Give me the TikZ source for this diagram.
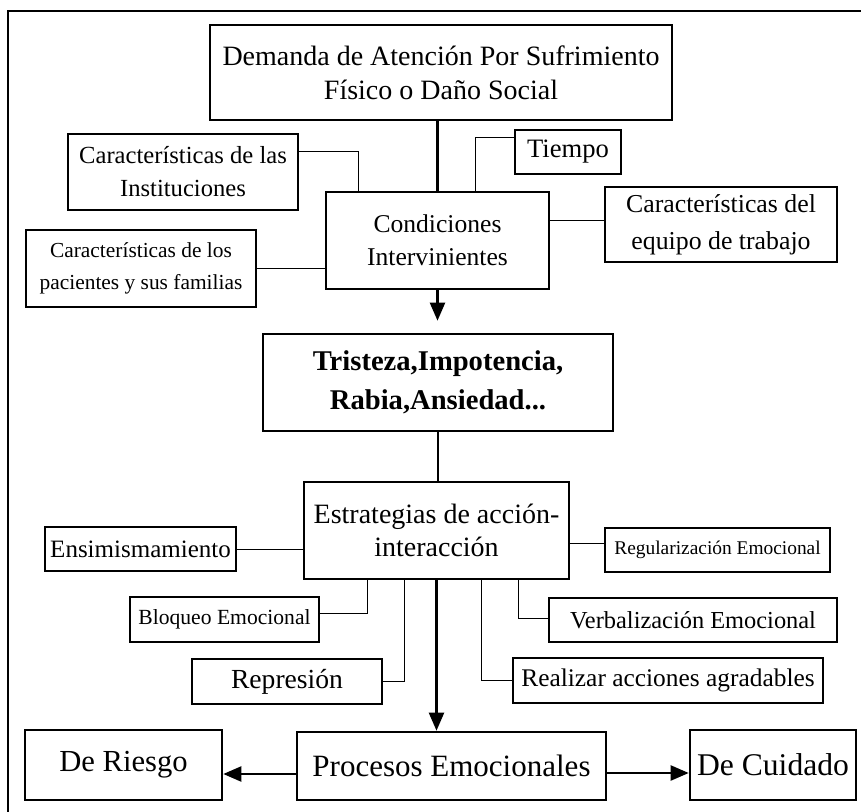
\documentclass[tikz,border=0pt]{standalone}
\usepackage{fontspec}
\setmainfont{Liberation Serif}
\usetikzlibrary{positioning,arrows.meta}

\begin{document}
\begin{tikzpicture}[x=0.5pt,y=-0.5pt,
    caja/.style={draw, line width=1.3pt, align=center, inner sep=0pt},
    enlace/.style={line width=0.5pt},
    flujo/.style={line width=1.1pt},
    flecha/.style={flujo, -{Triangle[length=9pt,width=7.5pt]}}]
    \useasboundingbox (0,0) rectangle (861,812);

    % Marco exterior
    \draw[line width=1pt] (8,830) -- (8,11) -- (880,11);

    % Demanda y condiciones intervinientes
    \node[caja, minimum width=231pt, minimum height=47.5pt, font=\fontsize{14}{17}\selectfont] (demanda) at (441,72.5) {Demanda de Atención Por Sufrimiento\\Físico o Daño Social};
    \node[caja, minimum width=111.5pt, minimum height=48.5pt, font=\fontsize{12.8}{16.5}\selectfont] (condic) at (437.5,240.5) {Condiciones\\Intervinientes};
    \node[caja, minimum width=115pt, minimum height=38pt, font=\fontsize{12.3}{16.5}\selectfont] (instit) at (183,172) {Características de las\\Instituciones};
    \node[caja, minimum width=115pt, minimum height=38.5pt, font=\fontsize{10.7}{16}\selectfont] (pacient) at (141,268.5) {Características de los\\pacientes y sus familias};
    \node[caja, minimum width=53pt, minimum height=22pt, font=\fontsize{13.3}{16}\selectfont] (tiempo) at (568,152) {Tiempo};
    \node[caja, minimum width=116pt, minimum height=37.5pt, font=\fontsize{12.9}{18.5}\selectfont] (equipo) at (721,224.5) {Características del\\equipo de trabajo};

    % Emociones
    \node[caja, minimum width=175pt, minimum height=48.5pt, font=\fontsize{14.3}{19.5}\selectfont\bfseries] (trist) at (438,382.5) {Tristeza,Impotencia,\\Rabia,Ansiedad...};

    % Estrategias de accion-interaccion
    \node[caja, minimum width=132.5pt, minimum height=48.5pt, font=\fontsize{14}{16.5}\selectfont] (estrat) at (436.5,530.5) {Estrategias de acción-\\interacción};
    \node[caja, minimum width=95.5pt, minimum height=22pt, font=\fontsize{12.5}{15}\selectfont] (ensim) at (140.5,549) {Ensimismamiento};
    \node[caja, minimum width=112.5pt, minimum height=22pt, font=\fontsize{9.7}{12}\selectfont] (regul) at (717.5,550) {Regularización Emocional};
    \node[caja, minimum width=94.5pt, minimum height=22.5pt, font=\fontsize{10.8}{13}\selectfont] (bloqueo) at (224.5,619.5) {Bloqueo Emocional};
    \node[caja, minimum width=95pt, minimum height=22.5pt, font=\fontsize{13.8}{16}\selectfont] (repres) at (287,681.5) {Represión};
    \node[caja, minimum width=144pt, minimum height=22pt, font=\fontsize{12.2}{15}\selectfont] (verbal) at (693,620) {Verbalización Emocional};
    \node[caja, minimum width=155pt, minimum height=22.5pt, font=\fontsize{12.7}{15}\selectfont] (realiz) at (668,680.5) {Realizar acciones agradables};

    % Procesos emocionales
    \node[caja, minimum width=154.5pt, minimum height=34pt, font=\fontsize{15.5}{18}\selectfont] (procesos) at (451.5,766) {Procesos Emocionales};
    \node[caja, minimum width=98.5pt, minimum height=35pt, font=\fontsize{15.3}{18}\selectfont] (riesgo) at (123.5,765) {De Riesgo};
    \node[caja, minimum width=83pt, minimum height=35pt, font=\fontsize{15.8}{18}\selectfont] (cuidado) at (773,765) {De Cuidado};

    % Flujo principal
    \draw[flujo] (demanda.south -| condic.north) -- (condic.north);
    \draw[flecha] (condic.south) -- ([yshift=6pt]condic.south |- trist.north);
    \draw[flujo] (trist.south) -- (trist.south |- estrat.north);
    \draw[flecha] (estrat.south) -- (estrat.south |- procesos.north);
    \draw[flecha] ([yshift=-4pt]procesos.west) -- ([yshift=-4pt]procesos.west -| riesgo.east);
    \draw[flecha] ([yshift=-3.5pt]procesos.east) -- ([yshift=-3.5pt]procesos.east -| cuidado.west);

    % Enlaces de las condiciones
    \draw[enlace] ([yshift=10pt]instit.east) -| ([xshift=-39.75pt]condic.north);
    \draw[enlace] (pacient.east) -- (pacient.east -| condic.west);
    \draw[enlace] ([yshift=7pt]tiempo.west) -| ([xshift=18.75pt]condic.north);
    \draw[enlace] ([yshift=2pt]equipo.west) -- ([yshift=2pt]equipo.west -| condic.east);

    % Enlaces de las estrategias
    \draw[enlace] (ensim.east) -- (ensim.east -| estrat.west);
    \draw[enlace] ([yshift=3.5pt]regul.west) -- ([yshift=3.5pt]regul.west -| estrat.east);
    \draw[enlace] ([xshift=-34.75pt]estrat.south) |- ([yshift=3.25pt]bloqueo.east);
    \draw[enlace] ([xshift=-16.25pt]estrat.south) |- (repres.east);
    \draw[enlace] ([xshift=40.75pt]estrat.south) |- ([yshift=1pt]verbal.west);
    \draw[enlace] ([xshift=22.25pt]estrat.south) |- (realiz.west);
\end{tikzpicture}
\end{document}
